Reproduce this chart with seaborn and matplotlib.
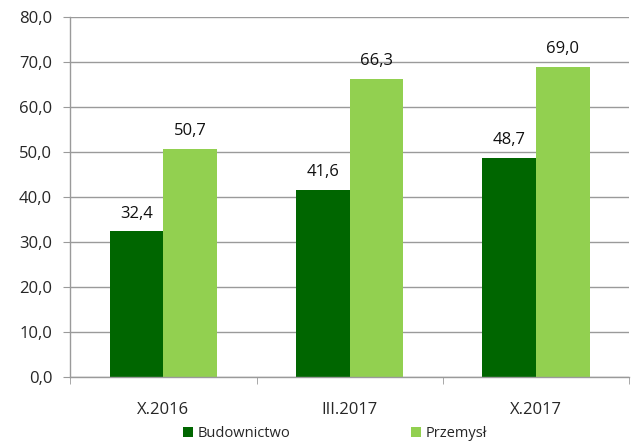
import matplotlib
matplotlib.use("Agg")
import matplotlib.pyplot as plt
import seaborn as sns
import pandas as pd
from matplotlib.patches import Patch

categories = ["X.2016", "III.2017", "X.2017"]
series_names = ["Budownictwo", "Przemysł"]
budownictwo = [32.4, 41.6, 48.7]
przemysl = [50.7, 66.3, 69.0]
y_ticks = [0, 10, 20, 30, 40, 50, 60, 70, 80]

colors = ["#006600", "#92D050"]

df = pd.DataFrame({
    "okres": categories * 2,
    "seria": [series_names[0]] * 3 + [series_names[1]] * 3,
    "wartosc": budownictwo + przemysl,
})

sns.set_style("white")
plt.rcParams["font.family"] = ["Open Sans", "DejaVu Sans"]

fig = plt.figure(figsize=(6.33, 4.43), dpi=100)
ax = fig.add_axes([0.111, 0.149, 0.883, 0.812])

sns.barplot(data=df, x="okres", y="wartosc", hue="seria", order=categories,
            hue_order=series_names, palette=colors, width=0.575, saturation=1,
            ax=ax, legend=False, edgecolor="none", linewidth=0)

for cont in ax.containers:
    labels = [f"{v:.1f}".replace(".", ",") for v in cont.datavalues]
    ax.bar_label(cont, labels=labels, padding=7, fontsize=12, color="#111111")

ax.set_ylim(0, 80)
ax.set_xlim(-0.5, 2.5)
ax.set_yticks(y_ticks)
ax.set_yticklabels([f"{v:.1f}".replace(".", ",") for v in y_ticks], fontsize=12)
ax.set_xticks([0, 1, 2])
ax.set_xticklabels(categories, fontsize=12)
ax.set_xlabel("")
ax.set_ylabel("")
ax.yaxis.grid(True, color="#9a9a9a", linewidth=1)
ax.set_axisbelow(True)

for side in ["top", "right"]:
    ax.spines[side].set_visible(False)
for side in ["left", "bottom"]:
    ax.spines[side].set_color("#9a9a9a")
    ax.spines[side].set_linewidth(1)

# y tick marks pointing outward; x ticks drawn at category boundaries
ax.tick_params(axis="y", length=5, color="#9a9a9a", left=True, pad=8)
ax.tick_params(axis="x", length=0, pad=18)
ax.set_xticks([-0.5, 0.5, 1.5, 2.5], minor=True)
ax.tick_params(axis="x", which="minor", length=5, color="#9a9a9a", bottom=True)

handles = [Patch(facecolor=c, edgecolor="none") for c in colors]
fig.legend(handles, series_names, loc="lower center", bbox_to_anchor=(0.529, -0.022),
           ncol=2, frameon=False, fontsize=10.5, handlelength=0.7, handleheight=0.7,
           handletextpad=0.3, columnspacing=8.3, borderpad=0.3)

fig.savefig("out.png", dpi=100)
